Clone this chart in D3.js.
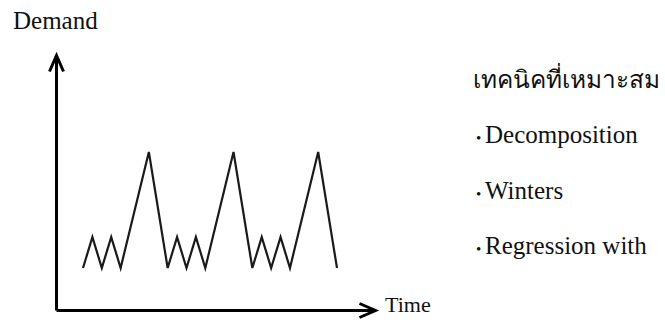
<!DOCTYPE html>
<html>
<head>
    <meta charset="utf-8">
    <title>Demand pattern</title>
    <script src="https://d3js.org/d3.v7.min.js"></script>
    <style>
        body { margin: 0; background: #fff; }
        .label { font-family: "Liberation Serif", "Times New Roman", serif; fill: #111; }
        .demand-line { fill: none; stroke: #1a1a1a; stroke-width: 2.2; stroke-linejoin: miter; }
        .frame .domain { stroke: #000; stroke-width: 3; }
    </style>
</head>
<body>
    <div id="chart"></div>

    <script>
        // data
        const timePoints = [0, 1, 2, 3, 4, 7, 9, 10, 11, 12, 13, 16, 18, 19, 20, 21, 22, 25, 27];
        const demand = [10, 14, 10, 14, 10, 25, 10, 14, 10, 14, 10, 25, 10, 14, 10, 14, 10, 25, 10];
        const yLabel = "Demand";
        const xLabel = "Time";
        const panelTitle = "เทคนิคที่เหมาะสม";
        const techniques = ["Decomposition", "Winters", "Regression with"];

        const width = 665, height = 322;

        const svg = d3.select("#chart")
            .append("svg")
            .attr("width", width)
            .attr("height", height);

        // scales for the zigzag
        const x = d3.scaleLinear().domain([0, 27]).range([83, 337]);
        const y = d3.scaleLinear().domain([10, 25]).range([268, 152]);

        // axis frame: plain lines with open arrow heads, no ticks
        const xFrame = d3.scaleLinear().domain([x.invert(56), x.invert(375)]).range([56, 375]);
        const yFrame = d3.scaleLinear().domain([y.invert(310), y.invert(55)]).range([310, 55]);

        svg.append("defs").append("marker")
            .attr("id", "arrow")
            .attr("markerUnits", "userSpaceOnUse")
            .attr("viewBox", "-20 -10 24 20")
            .attr("markerWidth", 24)
            .attr("markerHeight", 20)
            .attr("orient", "auto")
            .append("path")
            .attr("d", "M-16,-7L0,0L-16,7")
            .attr("fill", "none")
            .attr("stroke", "#000")
            .attr("stroke-width", 3);

        svg.append("g")
            .attr("class", "frame")
            .attr("transform", "translate(0,310)")
            .call(d3.axisBottom(xFrame).ticks(0).tickSizeOuter(0))
            .select(".domain")
            .attr("marker-end", "url(#arrow)");

        svg.append("g")
            .attr("class", "frame")
            .attr("transform", "translate(56,0)")
            .call(d3.axisLeft(yFrame).ticks(0).tickSizeOuter(0))
            .select(".domain")
            .attr("marker-end", "url(#arrow)");

        // demand zigzag
        const line = d3.line()
            .x((d, i) => x(timePoints[i]))
            .y(d => y(d));

        svg.append("path")
            .datum(demand)
            .attr("class", "demand-line")
            .attr("d", line);

        // axis labels
        svg.append("text")
            .attr("class", "label")
            .attr("x", 13)
            .attr("y", 29)
            .style("font-size", "25px")
            .text(yLabel);

        svg.append("text")
            .attr("class", "label")
            .attr("x", 385)
            .attr("y", 312)
            .style("font-size", "22px")
            .text(xLabel);

        // right-hand panel
        svg.append("text")
            .attr("class", "label")
            .attr("x", 473)
            .attr("y", 88)
            .style("font-size", "24.4px")
            .text(panelTitle);

        const items = svg.append("g")
            .selectAll("text")
            .data(techniques)
            .enter()
            .append("text")
            .attr("class", "label")
            .attr("x", 476)
            .attr("y", (d, i) => 143 + i * 55.5)
            .style("font-size", "25px");

        items.append("tspan")
            .style("font-size", "15px")
            .text("•");
        items.append("tspan")
            .attr("x", 485)
            .text(d => d);
    </script>
</body>
</html>
